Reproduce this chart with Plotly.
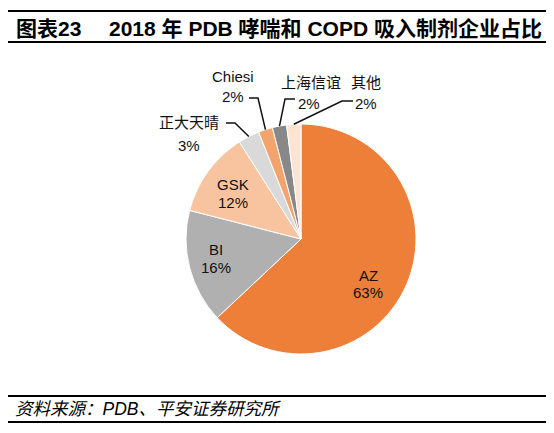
import math
import plotly.graph_objects as go

# ---- data ----
companies = ["AZ", "BI", "GSK", "正大天晴", "Chiesi", "上海信谊", "其他"]
shares = [63, 16, 12, 3, 2, 2, 2]
slice_colors = ["#EE7F38", "#B0B0B0", "#F8C4A0", "#D9D9D9", "#F3A36C", "#888888", "#FCE3D2"]

title_prefix = "图表23"
title_main = "2018 年 PDB 哮喘和 COPD 吸入制剂企业占比"
source_text = "资料来源：PDB、平安证券研究所"

# ---- layout geometry (pixels, page coordinates) ----
W, H = 554, 433
OFF = 8  # page body margin
CX, CY, R = 301, 239, 115
FONT = "Liberation Sans, Arial, Noto Sans CJK SC, sans-serif"


def px(x):
    return (x - OFF) / W


def py(y):
    return 1 - (y - OFF) / H


# label placement (name centre, percent centre) in pixels
label_pos = {
    "AZ": ((368, 275), (368, 292)),
    "BI": ((216, 249), (216, 267)),
    "GSK": ((233, 184), (233, 202)),
    "正大天晴": ((189, 123), (189, 146)),
    "Chiesi": ((233, 77), (233, 96)),
    "上海信谊": ((311, 82), (309, 103)),
    "其他": ((366, 82), (366, 103)),
}
# leader line outer points: (label end x, elbow x, y)
leader = {
    "正大天晴": (226, 235, 123),
    "Chiesi": (249, 258, 98),
    "上海信谊": (295, 285, 99),
    "其他": (353, 342, 101),
}

fig = go.Figure(
    go.Pie(
        labels=companies,
        values=shares,
        sort=False,
        direction="clockwise",
        rotation=0,
        marker=dict(colors=slice_colors, line=dict(color="white", width=1)),
        textinfo="none",
        hoverinfo="label+percent",
        showlegend=False,
        domain=dict(x=[px(CX - R), px(CX + R)], y=[py(CY + R), py(CY - R)]),
    )
)

annotations = []
shapes = []
total = sum(shares)
cum = 0
for name, val in zip(companies, shares):
    mid = (cum + val / 2) / total * 2 * math.pi
    cum += val
    pct = f"{round(val / total * 100)}%"
    (nx, ny), (qx, qy) = label_pos[name]
    for txt, (x, y) in ((name, (nx, ny)), (pct, (qx, qy))):
        annotations.append(dict(
            x=px(x), y=py(y), xref="paper", yref="paper", text=txt,
            showarrow=False, xanchor="center", yanchor="middle",
            font=dict(family=FONT, size=15, color="#111111"),
        ))
    if name in leader:
        x0, x1, y0 = leader[name]
        ex = CX + R * math.sin(mid)
        ey = CY - R * math.cos(mid)
        path = f"M {px(x0)} {py(y0)} L {px(x1)} {py(y0)} L {px(ex)} {py(ey)}"
        shapes.append(dict(type="path", path=path, xref="paper", yref="paper",
                           line=dict(color="#111111", width=1.5)))

# title and source
annotations.append(dict(x=px(14), y=py(29), xref="paper", yref="paper",
                        text=f"<b>{title_prefix}</b>", showarrow=False,
                        xanchor="left", yanchor="middle",
                        font=dict(family=FONT, size=21, color="#000000")))
annotations.append(dict(x=px(107), y=py(29), xref="paper", yref="paper",
                        text=f"<b>{title_main}</b>", showarrow=False,
                        xanchor="left", yanchor="middle",
                        font=dict(family=FONT, size=21, color="#000000")))
annotations.append(dict(x=px(13), y=py(409), xref="paper", yref="paper",
                        text=f"<i>{source_text}</i>", showarrow=False,
                        xanchor="left", yanchor="middle",
                        font=dict(family=FONT, size=17.5, color="#000000")))

for yline in (11, 42, 396, 422):
    shapes.append(dict(type="line", xref="paper", yref="paper",
                       x0=px(8), x1=px(546), y0=py(yline), y1=py(yline),
                       line=dict(color="#000000", width=2)))

fig.update_layout(
    width=W, height=H,
    margin=dict(l=0, r=0, t=0, b=0),
    paper_bgcolor="white", plot_bgcolor="white",
    annotations=annotations, shapes=shapes,
)

fig.write_html("out.html")
